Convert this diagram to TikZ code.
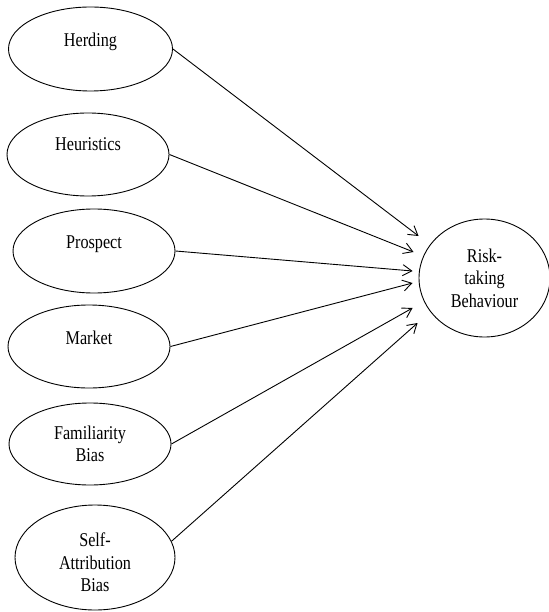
\documentclass[tikz,border=0pt]{standalone}
\usepackage{fontspec}
\setmainfont{Liberation Serif}[FakeStretch=0.83]
\usetikzlibrary{shapes.geometric,arrows.meta,calc}

\tikzset{
  factor/.style={ellipse,draw,line width=0.9pt,minimum width=162pt,minimum height=83pt,inner sep=0pt},
  txt/.style={font=\fontsize{19.5}{22.5}\selectfont,align=center,inner sep=0pt},
  link/.style={line width=0.9pt,-{Straight Barb[length=9pt,width=11pt]}}
}

\begin{document}
\begin{tikzpicture}[x=1pt,y=-1pt]
\useasboundingbox (0,0) rectangle (548,612);
% predictors
\node[factor,minimum width=164pt,minimum height=84pt,label={[txt,yshift=7pt]center:Herding}] (herd) at (90.5,49) {};
\node[factor,label={[txt,yshift=10pt]center:Heuristics}] (heur) at (88,154.5) {};
\node[factor,minimum height=84pt,label={[txt,yshift=7pt]center:Prospect}] (pros) at (94,251) {};
\node[factor,label={[txt,yshift=9pt]center:Market}] (mark) at (89,346.5) {};
\node[factor,minimum height=82pt,label={[txt]center:Familiarity\\Bias}] (fam) at (90,444) {};
\node[factor,minimum width=160pt,minimum height=105pt,label={[txt,yshift=-5pt]center:Self-\\Attribution\\Bias}] (self) at (95,557.5) {};
% outcome
\node[factor,minimum width=131pt,minimum height=118pt,label={[txt]center:Risk-\\taking\\Behaviour}] (risk) at (484.5,278) {};
% arrow tips, short of the outcome
\coordinate (t1) at ($(risk.west)+(0,-42)$);
\coordinate (t2) at ($(risk.west)+(-5,-26)$);
\coordinate (t3) at ($(risk.west)+(-6,-7)$);
\coordinate (t4) at ($(risk.west)+(-6,5)$);
\coordinate (t5) at ($(risk.west)+(-6,30)$);
\coordinate (t6) at ($(risk.west)+(-1,45)$);
\draw[link] (herd.east) -- (t1);
\draw[link] (heur.east) -- (t2);
\draw[link] (pros.east) -- (t3);
\draw[link] (mark.east) -- (t4);
\draw[link] (fam.east) -- (t5);
\draw[link] (self.12) -- (t6);
\end{tikzpicture}
\end{document}
